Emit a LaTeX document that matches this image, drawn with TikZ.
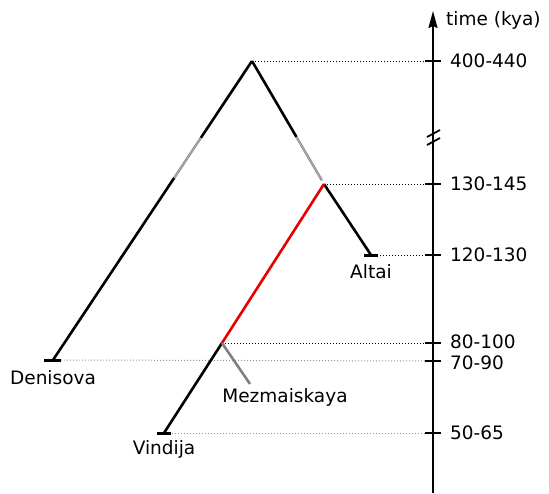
\documentclass[tikz,border=0pt]{standalone}
\usepackage{fontspec}
\setmainfont{DejaVu Sans}
\definecolor{Split}{RGB}{230,0,0}
\definecolor{Faint}{RGB}{128,128,128}
\definecolor{GuideGray}{RGB}{150,150,150}
\usetikzlibrary{arrows.meta,positioning,calc}

\begin{document}
\begin{tikzpicture}[x=1pt,y=-1pt,
  branch/.style={line width=2.6pt,black},
  gap/.style={line width=0.8pt,Faint,double=black!25,double distance=0.7pt},
  tipbar/.style={line width=3pt,black},
  guide/.style={dotted,line width=1pt,black},
  faintguide/.style={dotted,line width=1pt,GuideGray},
  taxon/.style={font=\fontsize{18.5}{22}\selectfont,inner sep=0pt},
  agelabel/.style={font=\fontsize{18.5}{22}\selectfont,inner sep=0pt,anchor=west}]
  \useasboundingbox (0,0) rectangle (549,493);
  % tree
  \coordinate (root) at (252,61);
  \coordinate (nean) at (324,184);
  \coordinate (mez) at (222,343);
  \coordinate (deni) at (53,360);
  \coordinate (alt) at (371,255);
  \coordinate (vin) at (164,433);
  \coordinate (mezt) at (250,384);
  % axis
  \coordinate (abot) at (433,493);
  \coordinate (atop) at (433,11);
  \coordinate (t400) at (433,61);
  \coordinate (t130) at (433,184);
  \coordinate (t120) at (433,255);
  \coordinate (t80) at (433,343);
  \coordinate (t70) at (433,361);
  \coordinate (t50) at (433,433);
  % guides
  \draw[guide] (root) -- (t400);
  \draw[guide] (nean) -- (t130);
  \draw[guide] (alt) -- (t120);
  \draw[guide] (mez) -- (t80);
  \draw[faintguide] ($(deni)+(8,0)$) -- (t70);
  \draw[faintguide] ($(vin)+(8,0)$) -- (t50);
  % branches
  \draw[branch] (root) -- ($(root)!0.2575!(deni)$);
  \draw[gap] ($(root)!0.2575!(deni)$) -- ($(root)!0.391!(deni)$);
  \draw[branch] ($(root)!0.391!(deni)$) -- (deni);
  \draw[branch] (root) -- ($(root)!0.618!(nean)$);
  \draw[gap] ($(root)!0.618!(nean)$) -- ($(root)!0.97!(nean)$);
  \draw[branch] (nean) -- (alt);
  \draw[branch,Split] (nean) -- (mez);
  \draw[branch] (mez) -- (vin);
  \draw[branch,Faint] (mez) -- (mezt);
  \draw[tipbar] ($(deni)+(-9,0)$) -- ($(deni)+(8,0)$);
  \draw[tipbar] ($(alt)+(-7,0)$) -- ($(alt)+(7,0)$);
  \draw[tipbar] ($(vin)+(-7,0)$) -- ($(vin)+(7,0)$);
  \node[taxon,below=10pt of deni] (ldeni) {Denisova};
  \node[taxon,below=9pt of alt] (lalt) {Altai};
  \node[taxon,below=4pt of mezt,xshift=35pt] (lmez) {Mezmaiskaya};
  \node[taxon,below=7pt of vin] (lvin) {Vindija};
  % time axis
  \draw[line width=1.8pt,-{Stealth[length=17pt,width=9pt,inset=2pt]}] (abot) -- (atop);
  \draw[line width=1.8pt] (427,137) -- (440,130);
  \draw[line width=1.8pt] (427,145) -- (440,138);
  \foreach \t in {t400,t130,t120,t80,t70,t50}
    \draw[line width=1.6pt] ($(\t)+(-8,0)$) -- ($(\t)+(8,0)$);
  \node[agelabel] (ltime) at (446,20) {time (kya)};
  \node[agelabel] (l400) at (450,61) {400-440};
  \node[agelabel] (l130) at (450,184) {130-145};
  \node[agelabel] (l120) at (450,255) {120-130};
  \node[agelabel] (l80) at (450,342) {80-100};
  \node[agelabel] (l70) at (450,363) {70-90};
  \node[agelabel] (l50) at (450,433) {50-65};
\end{tikzpicture}
\end{document}
